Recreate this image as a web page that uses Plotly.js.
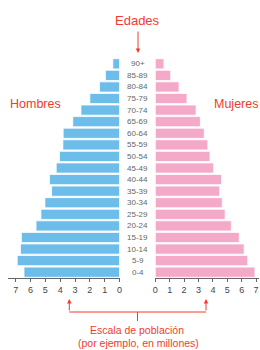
<!DOCTYPE html>
<html>
<head>
<meta charset="utf-8">
<script src="https://cdn.plot.ly/plotly-3.0.1.min.js"></script>
<style>html,body{margin:0;padding:0;background:#fff}#chart{width:260px;height:350px}</style>
</head>
<body>
<div id="chart"></div>
<script>
const ageGroups = ['0-4','5-9','10-14','15-19','20-24','25-29','30-34','35-39','40-44','45-49','50-54','55-59','60-64','65-69','70-74','75-79','80-84','85-89','90+'];
const men   = [6.44, 6.9, 6.68, 6.62, 5.63, 5.3, 5.03, 4.58, 4.72, 4.27, 4.05, 3.82, 3.8, 3.15, 2.6, 2.0, 1.35, 0.95, 0.45];
const women = [6.92, 6.42, 6.17, 5.83, 5.28, 4.85, 4.65, 4.47, 4.6, 4.05, 3.8, 3.65, 3.4, 3.13, 2.83, 2.2, 1.65, 1.07, 0.6];
const leftTicks = [0,1,2,3,4,5,6,7];
const rightTicks = [0,1,2,3,4,5,6,7];

const RED = '#f23b2c';
const FONT = 'Liberation Sans, Arial, sans-serif';
// plot area: y from 58 to 278 px (height 220)
const py = y => (278 - y) / 220;
const px = x => x / 260;

const traces = [
  {type:'bar', orientation:'h', x: men, y: ageGroups, xaxis:'x', yaxis:'y',
   marker:{color:'#6cbde9', line:{color:'#ffffff', width:0.8}}, hoverinfo:'skip'},
  {type:'bar', orientation:'h', x: women, y: ageGroups, xaxis:'x2', yaxis:'y',
   marker:{color:'#f5a9c9', line:{color:'#ffffff', width:0.8}}, hoverinfo:'skip'}
];

const axisCommon = {
  showgrid:false, zeroline:false, showline:true, linecolor:'#666', linewidth:1,
  ticks:'outside', ticklen:3, tickcolor:'#666', tickwidth:1,
  tickfont:{family:FONT, size:9, color:'#444'}, fixedrange:true
};

const annotations = ageGroups.map(a => ({
  xref:'paper', yref:'y', x: px(137.5), y: a, xanchor:'center', yanchor:'middle', text: a, showarrow:false,
  font:{family:FONT, size:8, color:'#666'}
}));

function label(x, y, text, size) {
  return {xref:'paper', yref:'paper', x:px(x), y:py(y), xanchor:'center', yanchor:'middle',
          text:text, showarrow:false, font:{family:FONT, size:size, color:RED}};
}
function arrow(x, yTip, yTail) {
  return {xref:'paper', yref:'paper', x:px(x), y:py(yTip), ax:px(x), ay:py(yTail), axref:'paper', ayref:'paper',
          text:'', showarrow:true, arrowhead:2, arrowsize:0.9, arrowwidth:1, arrowcolor:RED};
}

annotations.push(
  label(137.5, 20, 'Edades', 13),
  arrow(138, 53, 30),
  label(35, 104, 'Hombres', 12.5),
  label(236, 104, 'Mujeres', 12.5),
  arrow(69.3, 299, 312),
  arrow(206, 299, 312),
  label(137, 330, 'Escala de población', 10.5),
  label(138, 342.5, '(por ejemplo, en millones)', 10.5)
);

const shapes = [
  {type:'line', xref:'paper', yref:'paper', x0:px(69.3), x1:px(206), y0:py(312), y1:py(312), line:{color:RED, width:1}},
  {type:'line', xref:'paper', yref:'paper', x0:px(137.5), x1:px(137.5), y0:py(312), y1:py(321), line:{color:RED, width:1}}
];

const layout = {
  width:260, height:350,
  margin:{l:0, r:0, t:58, b:72, pad:0},
  paper_bgcolor:'#fff', plot_bgcolor:'#fff',
  showlegend:false, bargap:0.12,
  font:{family:FONT},
  xaxis: Object.assign({}, axisCommon, {domain:[8.3/260, 119.5/260], range:[7.5, 0], tickvals:leftTicks, anchor:'y'}),
  xaxis2: Object.assign({}, axisCommon, {domain:[155.3/260, 259/260], range:[0, 7.2], tickvals:rightTicks, anchor:'y',
                                          ticklabeloverflow:'allow'}),
  yaxis: {type:'category', categoryarray:ageGroups, range:[-0.5, 18.5], showticklabels:false,
          showgrid:false, zeroline:false, showline:false, ticks:'', fixedrange:true},
  annotations: annotations,
  shapes: shapes
};

Plotly.newPlot('chart', traces, layout, {staticPlot:true, displayModeBar:false});
</script>
</body>
</html>
